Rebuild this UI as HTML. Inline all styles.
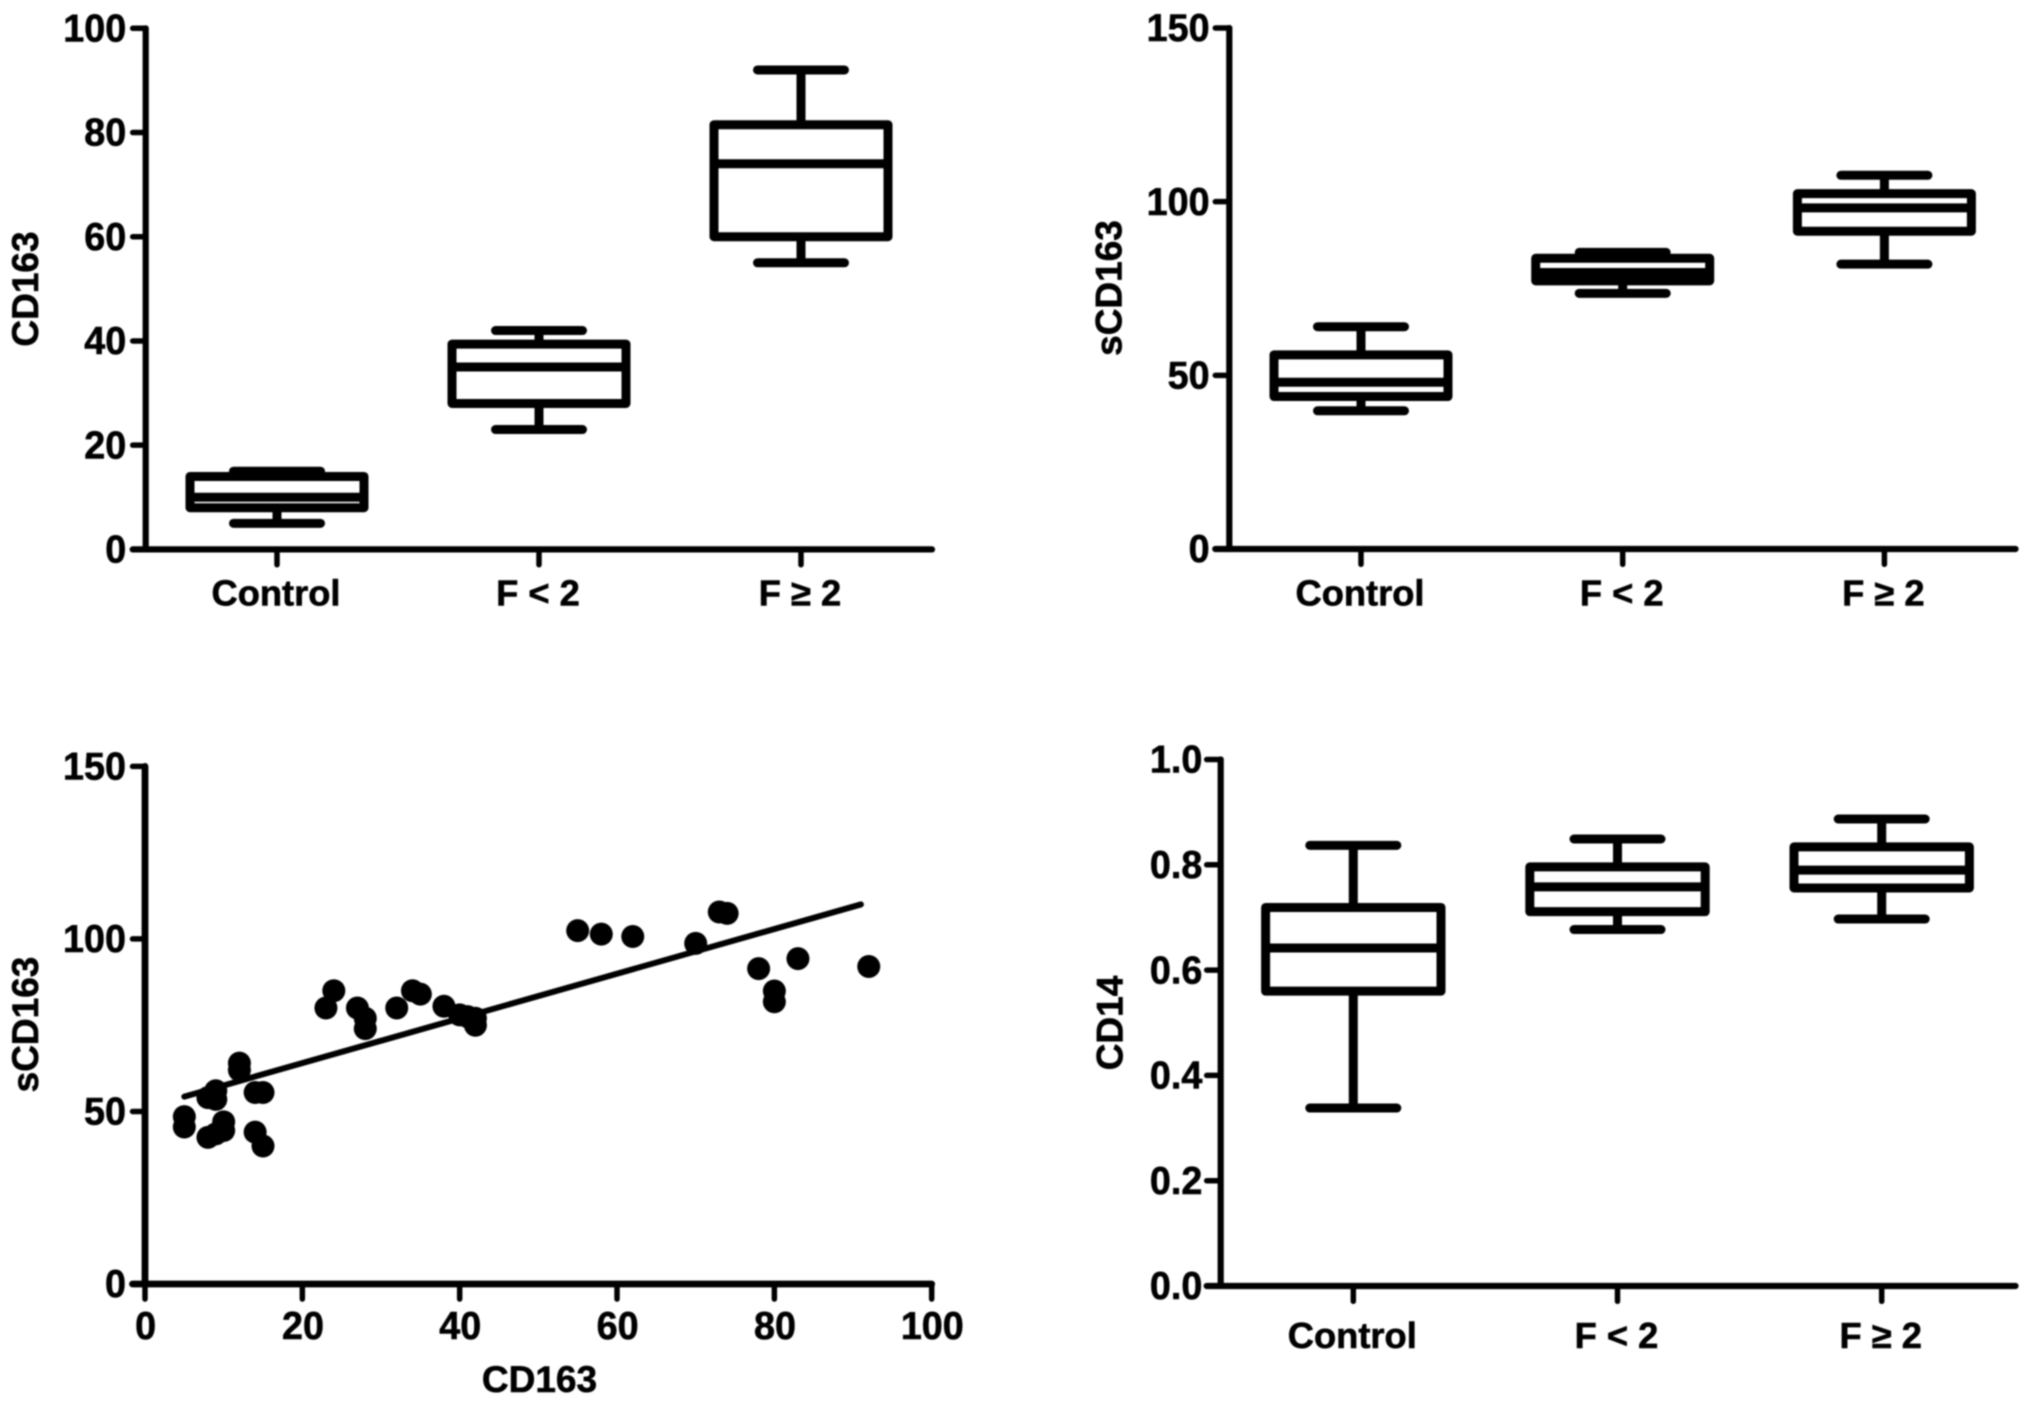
<!DOCTYPE html>
<html lang="en">
<head>
<meta charset="utf-8">
<title>CD163, sCD163 and CD14 by fibrosis group</title>
<style>
html,body{margin:0;padding:0;background:#fff;width:2031px;height:1406px;overflow:hidden}
svg{display:block;filter:blur(0.7px)}
text{font-family:"Liberation Sans",sans-serif;font-weight:bold;fill:#000;stroke:#000;stroke-width:0.6px}
</style>
</head>
<body>
<svg id="figure" width="2031" height="1406" viewBox="0 0 2031 1406" xmlns="http://www.w3.org/2000/svg">
  <rect x="0" y="0" width="2031" height="1406" fill="#fff"/>
  <g id="panelA"></g>
  <g id="panelB"></g>
  <g id="panelC"></g>
  <g id="panelD"></g>
</svg>
<script>
// ---- shared categories ----
const groupLabels = ['Control', 'F < 2', 'F \u2265 2'];

// ---- panel A: CD163 ----
const cd163Ticks = [0, 20, 40, 60, 80, 100];
const cd163Min = [5, 23, 55];
const cd163Q1 = [8, 28, 60];
const cd163Median = [10, 35, 74];
const cd163Q3 = [14, 39.4, 81.5];
const cd163Max = [15, 42, 92];

// ---- panel B: sCD163 ----
const scd163Ticks = [0, 50, 100, 150];
const scd163Min = [39.8, 73.6, 82];
const scd163Q1 = [43.9, 77.2, 91.5];
const scd163Median = [48, 79.6, 98.2];
const scd163Q3 = [55.9, 83.7, 102.3];
const scd163Max = [64, 85.4, 107.6];

// ---- panel C: CD163 vs sCD163 scatter ----
const scatterXTicks = [0, 20, 40, 60, 80, 100];
const scatterYTicks = [0, 50, 100, 150];
const scatterCd163 = [5, 5, 8, 8, 9, 9, 9, 10, 10, 12, 12, 14, 15, 14, 15, 23, 24, 27, 28, 28, 32, 34, 35, 38, 40, 41, 42, 42, 55, 58, 62, 70, 73, 74, 78, 80, 80, 83, 92];
const scatterScd163 = [48.5, 45.5, 54, 42.5, 56, 53.5, 43.5, 47, 44.5, 64, 62, 55.5, 55.5, 44, 40, 80, 85, 80, 77, 74, 80, 85, 84, 80.5, 78, 77.5, 77, 75, 102.4, 101.4, 100.7, 98.7, 107.8, 107.4, 91.4, 84.9, 81.8, 94.3, 92];
const fitLineX = [5, 91];
const fitLineY = [54.3, 110];

// ---- panel D: CD14 ----
const cd14Ticks = [0, 0.2, 0.4, 0.6, 0.8, 1];
const cd14TickLabels = ['0.0', '0.2', '0.4', '0.6', '0.8', '1.0'];
const cd14Min = [0.338, 0.677, 0.697];
const cd14Q1 = [0.56, 0.711, 0.756];
const cd14Median = [0.642, 0.758, 0.79];
const cd14Q3 = [0.719, 0.796, 0.834];
const cd14Max = [0.837, 0.849, 0.887];

const SVG_NS = 'http://www.w3.org/2000/svg';
const BOX_STROKE = 9;
const TICK_STROKE = 5.5;

function el(tag, attrs, parent, txt) {
  const node = document.createElementNS(SVG_NS, tag);
  Object.keys(attrs).forEach(function (k) { node.setAttribute(k, attrs[k]); });
  if (txt !== undefined) node.textContent = txt;
  parent.appendChild(node);
  return node;
}

function strokeLine(x1, y1, x2, y2, width, cap, parent) {
  return el('line', { x1: x1, y1: y1, x2: x2, y2: y2, stroke: '#000', 'stroke-width': width, 'stroke-linecap': cap }, parent);
}

function linear(d0, d1, r0, r1) {
  return function (v) { return r0 + (v - d0) * (r1 - r0) / (d1 - d0); };
}

function tickText(x, y, anchor, str, parent) {
  return el('text', {
    x: 0, y: 0, 'text-anchor': anchor, 'font-size': 38.5,
    transform: 'translate(' + x + ',' + y + ') scale(0.98,1)'
  }, parent, str);
}

function drawYAxis(g, cfg, ticks, labels, yScale) {
  const axis = strokeLine(cfg.axisX, yScale(ticks[ticks.length - 1]), cfg.axisX, cfg.axisY, cfg.axisStroke, 'round', g);
  
  
  ticks.forEach(function (t, i) {
    const y = yScale(t);
    const tick = strokeLine(cfg.axisX - cfg.tickLen, y, cfg.axisX, y, TICK_STROKE, 'round', g);
    
    
    const label = tickText(cfg.axisX - cfg.labelGap, y + 13.2, 'end', labels[i], g);
    
    
  });
  const title = el('text', {
    x: 0, y: 0, 'text-anchor': 'middle', 'font-size': 37,
    transform: 'translate(' + cfg.yTitleX + ',' + cfg.yTitleY + ') rotate(-90)'
  }, g, cfg.yTitle);
  
  
}

function drawBoxPanel(id, cfg, ticks, labels, mins, q1s, medians, q3s, maxs) {
  const g = document.getElementById(id);
  const yScale = linear(ticks[0], ticks[ticks.length - 1], cfg.axisY, cfg.topY);
  const xPos = function (i) { return cfg.firstX + i * cfg.stepX; };

  drawYAxis(g, cfg, ticks, labels, yScale);

  const xAxis = strokeLine(cfg.axisX - cfg.tickLen, cfg.axisY, cfg.endX, cfg.axisY, cfg.axisStroke, 'round', g);
  
  

  groupLabels.forEach(function (name, i) {
    const cx = xPos(i);
    const tick = strokeLine(cx, cfg.axisY, cx, cfg.axisY + 15.3, TICK_STROKE, 'round', g);
    
    
    const label = el('text', { x: cx - 1, y: cfg.axisY + cfg.catOffset, 'text-anchor': 'middle', 'font-size': 36.3 }, g, name);
    
    

    const box = el('g', {}, g);
    
    

    const upperWhisker = strokeLine(cx, yScale(q3s[i]), cx, yScale(maxs[i]), BOX_STROKE, 'butt', box);
    
    
    const lowerWhisker = strokeLine(cx, yScale(q1s[i]), cx, yScale(mins[i]), BOX_STROKE, 'butt', box);
    
    
    const upperCap = strokeLine(cx - 43.5, yScale(maxs[i]), cx + 43.5, yScale(maxs[i]), BOX_STROKE, 'round', box);
    
    
    const lowerCap = strokeLine(cx - 43.5, yScale(mins[i]), cx + 43.5, yScale(mins[i]), BOX_STROKE, 'round', box);
    
    

    const rect = el('rect', {
      x: cx - cfg.boxHalf, y: yScale(q3s[i]), width: cfg.boxHalf * 2,
      height: yScale(q1s[i]) - yScale(q3s[i]),
      fill: 'none', stroke: '#000', 'stroke-width': BOX_STROKE, 'stroke-linejoin': 'round'
    }, box);
    
    

    const median = strokeLine(cx - cfg.boxHalf, yScale(medians[i]), cx + cfg.boxHalf, yScale(medians[i]), BOX_STROKE, 'butt', box);
    
    
  });
}

function drawScatterPanel() {
  const g = document.getElementById('panelC');
  const cfg = { axisX: 145, axisY: 1284, topY: 766.4, endX: 931.7, axisStroke: 6.8, tickLen: 12.5, labelGap: 19, yTitle: 'sCD163', yTitleX: 38, yTitleY: 1024.5 };
  const xScale = linear(0, 100, 145, 931.7);
  const yScale = linear(0, 150, cfg.axisY, cfg.topY);

  drawYAxis(g, cfg, scatterYTicks, scatterYTicks.map(String), yScale);

  const xAxis = strokeLine(cfg.axisX - cfg.tickLen, cfg.axisY, cfg.endX, cfg.axisY, cfg.axisStroke, 'round', g);
  
  

  scatterXTicks.forEach(function (t) {
    const x = xScale(t);
    const tick = strokeLine(x, cfg.axisY, x, cfg.axisY + 15, TICK_STROKE, 'round', g);
    
    
    const label = tickText(x + 0.6, cfg.axisY + 55, 'middle', String(t), g);
    
    
  });

  const xTitle = el('text', { x: 539.5, y: 1392, 'text-anchor': 'middle', 'font-size': 37 }, g, 'CD163');
  
  

  scatterCd163.forEach(function (v, i) {
    const dot = el('circle', { cx: xScale(v), cy: yScale(scatterScd163[i]), r: 11.5, fill: '#000' }, g);
    
    
  });

  const fit = strokeLine(xScale(fitLineX[0]), yScale(fitLineY[0]), xScale(fitLineX[1]), yScale(fitLineY[1]), 6, 'round', g);
  
  
}

drawBoxPanel('panelA',
  { axisX: 145.7, axisY: 549.4, topY: 28.3, endX: 932, axisStroke: 6.2, tickLen: 13, labelGap: 19.5, firstX: 277, stepX: 262, boxHalf: 87, catOffset: 56, yTitle: 'CD163', yTitleX: 38, yTitleY: 289 },
  cd163Ticks, cd163Ticks.map(String), cd163Min, cd163Q1, cd163Median, cd163Q3, cd163Max);

drawBoxPanel('panelB',
  { axisX: 1229.3, axisY: 549, topY: 28, endX: 2015.5, axisStroke: 6.2, tickLen: 14, labelGap: 19.7, firstX: 1361, stepX: 261.7, boxHalf: 87, catOffset: 56.5, yTitle: 'sCD163', yTitleX: 1121.5, yTitleY: 288 },
  scd163Ticks, scd163Ticks.map(String), scd163Min, scd163Q1, scd163Median, scd163Q3, scd163Max);

drawScatterPanel();

drawBoxPanel('panelD',
  { axisX: 1220.7, axisY: 1286, topY: 759.5, endX: 2015.5, axisStroke: 6.2, tickLen: 14, labelGap: 18.4, firstX: 1353.3, stepX: 264.2, boxHalf: 87.7, catOffset: 62, yTitle: 'CD14', yTitleX: 1122.5, yTitleY: 1023 },
  cd14Ticks, cd14TickLabels, cd14Min, cd14Q1, cd14Median, cd14Q3, cd14Max);
</script>
</body>
</html>
